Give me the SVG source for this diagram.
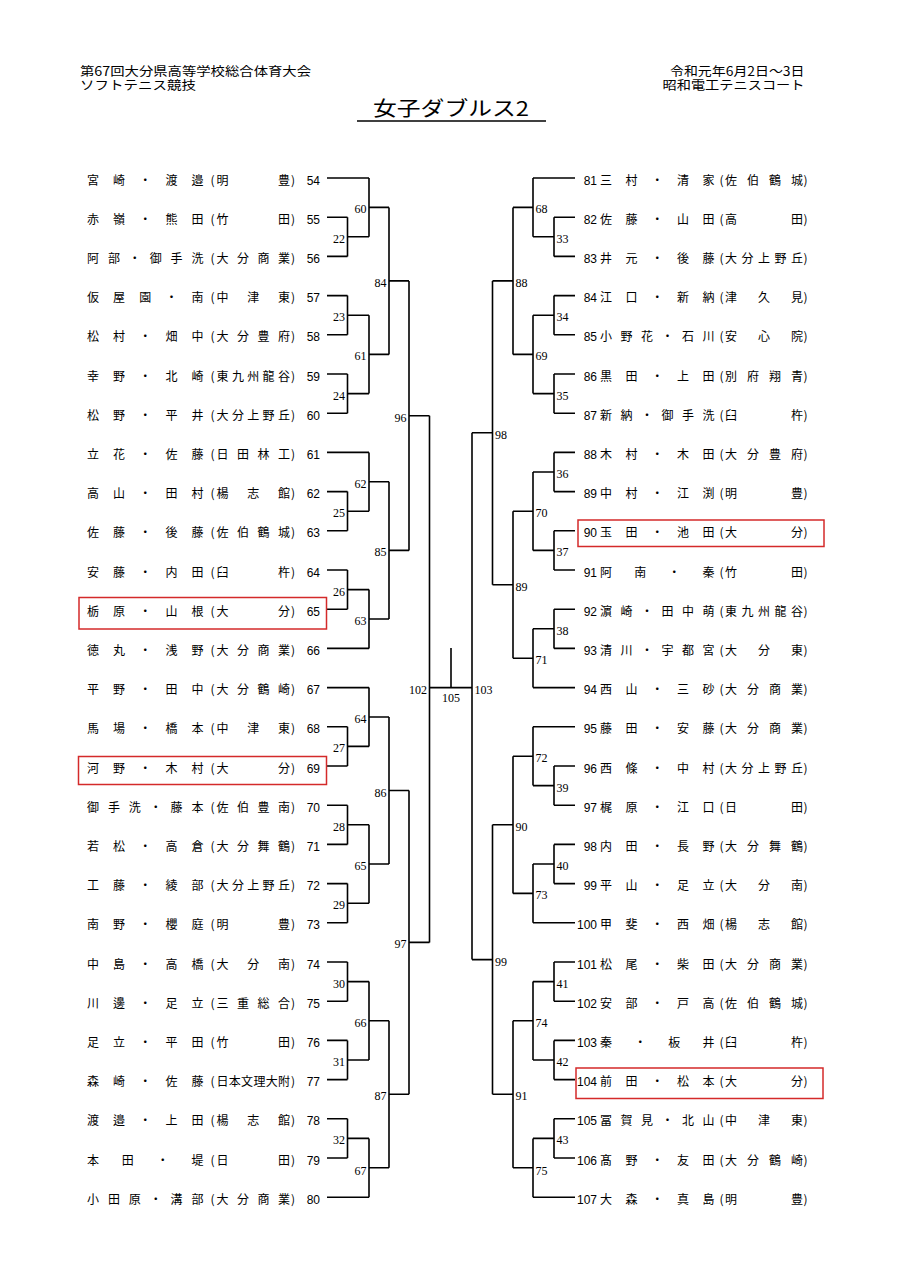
<svg xmlns="http://www.w3.org/2000/svg" width="905" height="1280" viewBox="0 0 905 1280">
<style>
.ln{fill:none;stroke:#000;stroke-width:1.6}
.nm{font-family:"Noto Sans CJK JP","Noto Sans CJK SC",sans-serif;font-size:12px;text-anchor:middle;fill:#000}
.no{font-family:"Liberation Sans",Arial,sans-serif;font-size:12px;text-anchor:end;fill:#000}
.ml{font-family:"Liberation Serif","Times New Roman",serif;font-size:12px;fill:#000}
.mr{font-family:"Liberation Serif","Times New Roman",serif;font-size:12px;fill:#000;text-anchor:end}
.hd{font-family:"Noto Sans CJK JP","Noto Sans CJK SC",sans-serif;font-size:12.5px;fill:#000}
.rb{fill:none;stroke:#d42a2a;stroke-width:1.5}
</style>
<rect width="905" height="1280" fill="#fff"/>
<g id="header">
<text class="hd" x="80" y="75.5" textLength="231" lengthAdjust="spacingAndGlyphs">第67回大分県高等学校総合体育大会</text>
<text class="hd" x="80" y="90" textLength="116" lengthAdjust="spacingAndGlyphs">ソフトテニス競技</text>
<text class="hd" x="670" y="75.5" textLength="134.5" lengthAdjust="spacingAndGlyphs">令和元年6月2日～3日</text>
<text class="hd" x="662.5" y="90" textLength="142" lengthAdjust="spacingAndGlyphs">昭和電工テニスコート</text>
<text class="hd" x="373" y="116" style="font-size:20px" textLength="156" lengthAdjust="spacingAndGlyphs">女子ダブルス2</text>
<line x1="357" y1="121" x2="546" y2="121" stroke="#000" stroke-width="1.5"/>
</g>
<g id="connectors" class="ln">
<path d="M327 217.2H347.5M327 256.4H347.5M327 295.6H347.5M327 334.8H347.5M327 374H347.5M327 413.2H347.5M327 491.6H347.5M327 530.8H347.5M327 570H347.5M327 609.2H347.5M327 726.8H347.5M327 766H347.5M327 805.2H347.5M327 844.4H347.5M327 883.6H347.5M327 922.8H347.5M327 962H347.5M327 1001.2H347.5M327 1040.4H347.5M327 1079.6H347.5M327 1118.8H347.5M327 1158H347.5"/>
<path d="M327 178H369M327 452.4H369M327 648.4H369M327 687.6H369M327 1197.2H369"/>
<path d="M347.5 217.2V256.4M347.5 236.8H369M347.5 295.6V334.8M347.5 315.2H369M347.5 374V413.2M347.5 393.6H369M347.5 491.6V530.8M347.5 511.2H369M347.5 570V609.2M347.5 589.6H369M347.5 726.8V766M347.5 746.4H369M347.5 805.2V844.4M347.5 824.8H369M347.5 883.6V922.8M347.5 903.2H369M347.5 962V1001.2M347.5 981.6H369M347.5 1040.4V1079.6M347.5 1060H369M347.5 1118.8V1158M347.5 1138.4H369"/>
<path d="M369 178V236.8M369 207.4H389M369 315.2V393.6M369 354.4H389M369 452.4V511.2M369 481.8H389M369 589.6V648.4M369 619H389M369 687.6V746.4M369 717H389M369 824.8V903.2M369 864H389M369 981.6V1060M369 1020.8H389M369 1138.4V1197.2M369 1167.8H389"/>
<path d="M389 207.4V354.4M389 280.9H409M389 481.8V619M389 550.4H409M389 717V864M389 790.5H409M389 1020.8V1167.8M389 1094.3H409"/>
<path d="M409 280.9V550.4M409 415.7H429.5M409 790.5V1094.3M409 942.4H429.5"/>
<path d="M429.5 415.7V942.4M429.5 687.6H472M451 648V687.6"/>
<path d="M575 217.2H554M575 256.4H554M575 295.6H554M575 334.8H554M575 374H554M575 413.2H554M575 452.4H554M575 491.6H554M575 530.8H554M575 570H554M575 609.2H554M575 648.4H554M575 766H554M575 805.2H554M575 844.4H554M575 883.6H554M575 962H554M575 1001.2H554M575 1040.4H554M575 1079.6H554M575 1118.8H554M575 1158H554"/>
<path d="M575 178H533M575 687.6H533M575 726.8H533M575 922.8H533M575 1197.2H533"/>
<path d="M554 217.2V256.4M554 236.8H533M554 295.6V334.8M554 315.2H533M554 374V413.2M554 393.6H533M554 452.4V491.6M554 472H533M554 530.8V570M554 550.4H533M554 609.2V648.4M554 628.8H533M554 766V805.2M554 785.6H533M554 844.4V883.6M554 864H533M554 962V1001.2M554 981.6H533M554 1040.4V1079.6M554 1060H533M554 1118.8V1158M554 1138.4H533"/>
<path d="M533 178V236.8M533 207.4H513M533 315.2V393.6M533 354.4H513M533 472V550.4M533 511.2H513M533 628.8V687.6M533 658.2H513M533 726.8V785.6M533 756.2H513M533 864V922.8M533 893.4H513M533 981.6V1060M533 1020.8H513M533 1138.4V1197.2M533 1167.8H513"/>
<path d="M513 207.4V354.4M513 280.9H492.5M513 511.2V658.2M513 584.7H492.5M513 756.2V893.4M513 824.8H492.5M513 1020.8V1167.8M513 1094.3H492.5"/>
<path d="M492.5 280.9V584.7M492.5 432.8H472M492.5 824.8V1094.3M492.5 959.6H472"/>
<path d="M472 432.8V959.6"/>
</g>
<g id="match-labels">
<text class="mr" x="345" y="242.8">22</text>
<text class="mr" x="345" y="321.2">23</text>
<text class="mr" x="345" y="399.6">24</text>
<text class="mr" x="345" y="517.2">25</text>
<text class="mr" x="345" y="595.6">26</text>
<text class="mr" x="345" y="752.4">27</text>
<text class="mr" x="345" y="830.8">28</text>
<text class="mr" x="345" y="909.2">29</text>
<text class="mr" x="345" y="987.6">30</text>
<text class="mr" x="345" y="1066">31</text>
<text class="mr" x="345" y="1144.4">32</text>
<text class="mr" x="366.5" y="213.4">60</text>
<text class="mr" x="366.5" y="360.4">61</text>
<text class="mr" x="366.5" y="487.8">62</text>
<text class="mr" x="366.5" y="625">63</text>
<text class="mr" x="366.5" y="723">64</text>
<text class="mr" x="366.5" y="870">65</text>
<text class="mr" x="366.5" y="1026.8">66</text>
<text class="mr" x="366.5" y="1174.5">67</text>
<text class="mr" x="386.5" y="286.9">84</text>
<text class="mr" x="386.5" y="556.4">85</text>
<text class="mr" x="386.5" y="796.5">86</text>
<text class="mr" x="386.5" y="1100.3">87</text>
<text class="mr" x="406.5" y="421.7">96</text>
<text class="mr" x="406.5" y="948.4">97</text>
<text class="mr" x="427" y="693.6">102</text>
<text class="ml" x="556.5" y="242.8">33</text>
<text class="ml" x="556.5" y="321.2">34</text>
<text class="ml" x="556.5" y="399.6">35</text>
<text class="ml" x="556.5" y="478">36</text>
<text class="ml" x="556.5" y="556.4">37</text>
<text class="ml" x="556.5" y="634.8">38</text>
<text class="ml" x="556.5" y="791.6">39</text>
<text class="ml" x="556.5" y="870">40</text>
<text class="ml" x="556.5" y="987.6">41</text>
<text class="ml" x="556.5" y="1066">42</text>
<text class="ml" x="556.5" y="1144.4">43</text>
<text class="ml" x="535.5" y="213.4">68</text>
<text class="ml" x="535.5" y="360.4">69</text>
<text class="ml" x="535.5" y="517.2">70</text>
<text class="ml" x="535.5" y="664.2">71</text>
<text class="ml" x="535.5" y="762.2">72</text>
<text class="ml" x="535.5" y="899.4">73</text>
<text class="ml" x="535.5" y="1026.8">74</text>
<text class="ml" x="535.5" y="1174.5">75</text>
<text class="ml" x="515.5" y="286.9">88</text>
<text class="ml" x="515.5" y="590.7">89</text>
<text class="ml" x="515.5" y="830.8">90</text>
<text class="ml" x="515.5" y="1100.3">91</text>
<text class="ml" x="495" y="438.8">98</text>
<text class="ml" x="495" y="965.6">99</text>
<text class="ml" x="474.5" y="693.6">103</text>
<text class="ml" x="451" y="701.5" text-anchor="middle">105</text>
</g>
<g id="e54" transform="translate(0,184.5)"><text class="nm" x="93 119.1 145.3 171.4 197.5 212.5 222.5 284 293">宮崎・渡邉(明豊)</text><text class="no" x="320">54</text></g>
<g id="e55" transform="translate(0,223.7)"><text class="nm" x="93 119.1 145.3 171.4 197.5 212.5 222.5 284 293">赤嶺・熊田(竹田)</text><text class="no" x="320">55</text></g>
<g id="e56" transform="translate(0,262.9)"><text class="nm" x="93 113.9 134.8 155.7 176.6 197.5 212.5 222.5 243 263.5 284 293">阿部・御手洗(大分商業)</text><text class="no" x="320">56</text></g>
<g id="e57" transform="translate(0,302.1)"><text class="nm" x="93 119.1 145.3 171.4 197.5 212.5 222.5 253.3 284 293">仮屋園・南(中津東)</text><text class="no" x="320">57</text></g>
<g id="e58" transform="translate(0,341.3)"><text class="nm" x="93 119.1 145.3 171.4 197.5 212.5 222.5 243 263.5 284 293">松村・畑中(大分豊府)</text><text class="no" x="320">58</text></g>
<g id="e59" transform="translate(0,380.5)"><text class="nm" x="93 119.1 145.3 171.4 197.5 212.5 222.5 237.9 253.3 268.6 284 293">幸野・北崎(東九州龍谷)</text><text class="no" x="320">59</text></g>
<g id="e60" transform="translate(0,419.7)"><text class="nm" x="93 119.1 145.3 171.4 197.5 212.5 222.5 237.9 253.3 268.6 284 293">松野・平井(大分上野丘)</text><text class="no" x="320">60</text></g>
<g id="e61" transform="translate(0,458.9)"><text class="nm" x="93 119.1 145.3 171.4 197.5 212.5 222.5 243 263.5 284 293">立花・佐藤(日田林工)</text><text class="no" x="320">61</text></g>
<g id="e62" transform="translate(0,498.1)"><text class="nm" x="93 119.1 145.3 171.4 197.5 212.5 222.5 253.3 284 293">高山・田村(楊志館)</text><text class="no" x="320">62</text></g>
<g id="e63" transform="translate(0,537.3)"><text class="nm" x="93 119.1 145.3 171.4 197.5 212.5 222.5 243 263.5 284 293">佐藤・後藤(佐伯鶴城)</text><text class="no" x="320">63</text></g>
<g id="e64" transform="translate(0,576.5)"><text class="nm" x="93 119.1 145.3 171.4 197.5 212.5 222.5 284 293">安藤・内田(臼杵)</text><text class="no" x="320">64</text></g>
<g id="e65" transform="translate(0,615.7)"><rect class="rb" x="79" y="-18.2" width="247.5" height="31.5"/><text class="nm" x="93 119.1 145.3 171.4 197.5 212.5 222.5 284 293">栃原・山根(大分)</text><text class="no" x="320">65</text></g>
<g id="e66" transform="translate(0,654.9)"><text class="nm" x="93 119.1 145.3 171.4 197.5 212.5 222.5 243 263.5 284 293">徳丸・浅野(大分商業)</text><text class="no" x="320">66</text></g>
<g id="e67" transform="translate(0,694.1)"><text class="nm" x="93 119.1 145.3 171.4 197.5 212.5 222.5 243 263.5 284 293">平野・田中(大分鶴崎)</text><text class="no" x="320">67</text></g>
<g id="e68" transform="translate(0,733.3)"><text class="nm" x="93 119.1 145.3 171.4 197.5 212.5 222.5 253.3 284 293">馬場・橋本(中津東)</text><text class="no" x="320">68</text></g>
<g id="e69" transform="translate(0,772.5)"><rect class="rb" x="78.5" y="-16" width="248" height="28"/><text class="nm" x="93 119.1 145.3 171.4 197.5 212.5 222.5 284 293">河野・木村(大分)</text><text class="no" x="320">69</text></g>
<g id="e70" transform="translate(0,811.7)"><text class="nm" x="93 113.9 134.8 155.7 176.6 197.5 212.5 222.5 243 263.5 284 293">御手洗・藤本(佐伯豊南)</text><text class="no" x="320">70</text></g>
<g id="e71" transform="translate(0,850.9)"><text class="nm" x="93 119.1 145.3 171.4 197.5 212.5 222.5 243 263.5 284 293">若松・高倉(大分舞鶴)</text><text class="no" x="320">71</text></g>
<g id="e72" transform="translate(0,890.1)"><text class="nm" x="93 119.1 145.3 171.4 197.5 212.5 222.5 237.9 253.3 268.6 284 293">工藤・綾部(大分上野丘)</text><text class="no" x="320">72</text></g>
<g id="e73" transform="translate(0,929.3)"><text class="nm" x="93 119.1 145.3 171.4 197.5 212.5 222.5 284 293">南野・櫻庭(明豊)</text><text class="no" x="320">73</text></g>
<g id="e74" transform="translate(0,968.5)"><text class="nm" x="93 119.1 145.3 171.4 197.5 212.5 222.5 253.3 284 293">中島・高橋(大分南)</text><text class="no" x="320">74</text></g>
<g id="e75" transform="translate(0,1007.7)"><text class="nm" x="93 119.1 145.3 171.4 197.5 212.5 222.5 243 263.5 284 293">川邊・足立(三重総合)</text><text class="no" x="320">75</text></g>
<g id="e76" transform="translate(0,1046.9)"><text class="nm" x="93 119.1 145.3 171.4 197.5 212.5 222.5 284 293">足立・平田(竹田)</text><text class="no" x="320">76</text></g>
<g id="e77" transform="translate(0,1086.1)"><text class="nm" x="93 119.1 145.3 171.4 197.5 212.5 222.5 234.8 247.1 259.4 271.7 284 293">森崎・佐藤(日本文理大附)</text><text class="no" x="320">77</text></g>
<g id="e78" transform="translate(0,1125.3)"><text class="nm" x="93 119.1 145.3 171.4 197.5 212.5 222.5 253.3 284 293">渡邉・上田(楊志館)</text><text class="no" x="320">78</text></g>
<g id="e79" transform="translate(0,1164.5)"><text class="nm" x="93 127.8 162.7 197.5 212.5 222.5 284 293">本田・堤(日田)</text><text class="no" x="320">79</text></g>
<g id="e80" transform="translate(0,1203.7)"><text class="nm" x="93 113.9 134.8 155.7 176.6 197.5 212.5 222.5 243 263.5 284 293">小田原・溝部(大分商業)</text><text class="no" x="320">80</text></g>
<g id="e81" transform="translate(0,184.5)"><text class="no" x="597">81</text><text class="nm" x="606 631.6 657.3 682.9 708.5 721.5 731 753 775 797 805.5">三村・清家(佐伯鶴城)</text></g>
<g id="e82" transform="translate(0,223.7)"><text class="no" x="597">82</text><text class="nm" x="606 631.6 657.3 682.9 708.5 721.5 731 797 805.5">佐藤・山田(高田)</text></g>
<g id="e83" transform="translate(0,262.9)"><text class="no" x="597">83</text><text class="nm" x="606 631.6 657.3 682.9 708.5 721.5 731 747.5 764 780.5 797 805.5">井元・後藤(大分上野丘)</text></g>
<g id="e84" transform="translate(0,302.1)"><text class="no" x="597">84</text><text class="nm" x="606 631.6 657.3 682.9 708.5 721.5 731 764 797 805.5">江口・新納(津久見)</text></g>
<g id="e85" transform="translate(0,341.3)"><text class="no" x="597">85</text><text class="nm" x="606 626.5 647 667.5 688 708.5 721.5 731 764 797 805.5">小野花・石川(安心院)</text></g>
<g id="e86" transform="translate(0,380.5)"><text class="no" x="597">86</text><text class="nm" x="606 631.6 657.3 682.9 708.5 721.5 731 753 775 797 805.5">黒田・上田(別府翔青)</text></g>
<g id="e87" transform="translate(0,419.7)"><text class="no" x="597">87</text><text class="nm" x="606 626.5 647 667.5 688 708.5 721.5 731 797 805.5">新納・御手洗(臼杵)</text></g>
<g id="e88" transform="translate(0,458.9)"><text class="no" x="597">88</text><text class="nm" x="606 631.6 657.3 682.9 708.5 721.5 731 753 775 797 805.5">木村・木田(大分豊府)</text></g>
<g id="e89" transform="translate(0,498.1)"><text class="no" x="597">89</text><text class="nm" x="606 631.6 657.3 682.9 708.5 721.5 731 797 805.5">中村・江渕(明豊)</text></g>
<g id="e90" transform="translate(0,537.3)"><rect class="rb" x="578" y="-17.3" width="246" height="26.5"/><text class="no" x="597">90</text><text class="nm" x="606 631.6 657.3 682.9 708.5 721.5 731 797 805.5">玉田・池田(大分)</text></g>
<g id="e91" transform="translate(0,576.5)"><text class="no" x="597">91</text><text class="nm" x="606 640.2 674.3 708.5 721.5 731 797 805.5">阿南・秦(竹田)</text></g>
<g id="e92" transform="translate(0,615.7)"><text class="no" x="597">92</text><text class="nm" x="606 626.5 647 667.5 688 708.5 721.5 731 747.5 764 780.5 797 805.5">濵崎・田中萌(東九州龍谷)</text></g>
<g id="e93" transform="translate(0,654.9)"><text class="no" x="597">93</text><text class="nm" x="606 626.5 647 667.5 688 708.5 721.5 731 764 797 805.5">清川・宇都宮(大分東)</text></g>
<g id="e94" transform="translate(0,694.1)"><text class="no" x="597">94</text><text class="nm" x="606 631.6 657.3 682.9 708.5 721.5 731 753 775 797 805.5">西山・三砂(大分商業)</text></g>
<g id="e95" transform="translate(0,733.3)"><text class="no" x="597">95</text><text class="nm" x="606 631.6 657.3 682.9 708.5 721.5 731 753 775 797 805.5">藤田・安藤(大分商業)</text></g>
<g id="e96" transform="translate(0,772.5)"><text class="no" x="597">96</text><text class="nm" x="606 631.6 657.3 682.9 708.5 721.5 731 747.5 764 780.5 797 805.5">西條・中村(大分上野丘)</text></g>
<g id="e97" transform="translate(0,811.7)"><text class="no" x="597">97</text><text class="nm" x="606 631.6 657.3 682.9 708.5 721.5 731 797 805.5">梶原・江口(日田)</text></g>
<g id="e98" transform="translate(0,850.9)"><text class="no" x="597">98</text><text class="nm" x="606 631.6 657.3 682.9 708.5 721.5 731 753 775 797 805.5">内田・長野(大分舞鶴)</text></g>
<g id="e99" transform="translate(0,890.1)"><text class="no" x="597">99</text><text class="nm" x="606 631.6 657.3 682.9 708.5 721.5 731 764 797 805.5">平山・足立(大分南)</text></g>
<g id="e100" transform="translate(0,929.3)"><text class="no" x="597">100</text><text class="nm" x="606 631.6 657.3 682.9 708.5 721.5 731 764 797 805.5">甲斐・西畑(楊志館)</text></g>
<g id="e101" transform="translate(0,968.5)"><text class="no" x="597">101</text><text class="nm" x="606 631.6 657.3 682.9 708.5 721.5 731 753 775 797 805.5">松尾・柴田(大分商業)</text></g>
<g id="e102" transform="translate(0,1007.7)"><text class="no" x="597">102</text><text class="nm" x="606 631.6 657.3 682.9 708.5 721.5 731 753 775 797 805.5">安部・戸高(佐伯鶴城)</text></g>
<g id="e103" transform="translate(0,1046.9)"><text class="no" x="597">103</text><text class="nm" x="606 640.2 674.3 708.5 721.5 731 797 805.5">秦・板井(臼杵)</text></g>
<g id="e104" transform="translate(0,1086.1)"><rect class="rb" x="576" y="-18.1" width="247" height="30.5"/><text class="no" x="597">104</text><text class="nm" x="606 631.6 657.3 682.9 708.5 721.5 731 797 805.5">前田・松本(大分)</text></g>
<g id="e105" transform="translate(0,1125.3)"><text class="no" x="597">105</text><text class="nm" x="606 626.5 647 667.5 688 708.5 721.5 731 764 797 805.5">冨賀見・北山(中津東)</text></g>
<g id="e106" transform="translate(0,1164.5)"><text class="no" x="597">106</text><text class="nm" x="606 631.6 657.3 682.9 708.5 721.5 731 753 775 797 805.5">髙野・友田(大分鶴崎)</text></g>
<g id="e107" transform="translate(0,1203.7)"><text class="no" x="597">107</text><text class="nm" x="606 631.6 657.3 682.9 708.5 721.5 731 797 805.5">大森・真島(明豊)</text></g>
</svg>
